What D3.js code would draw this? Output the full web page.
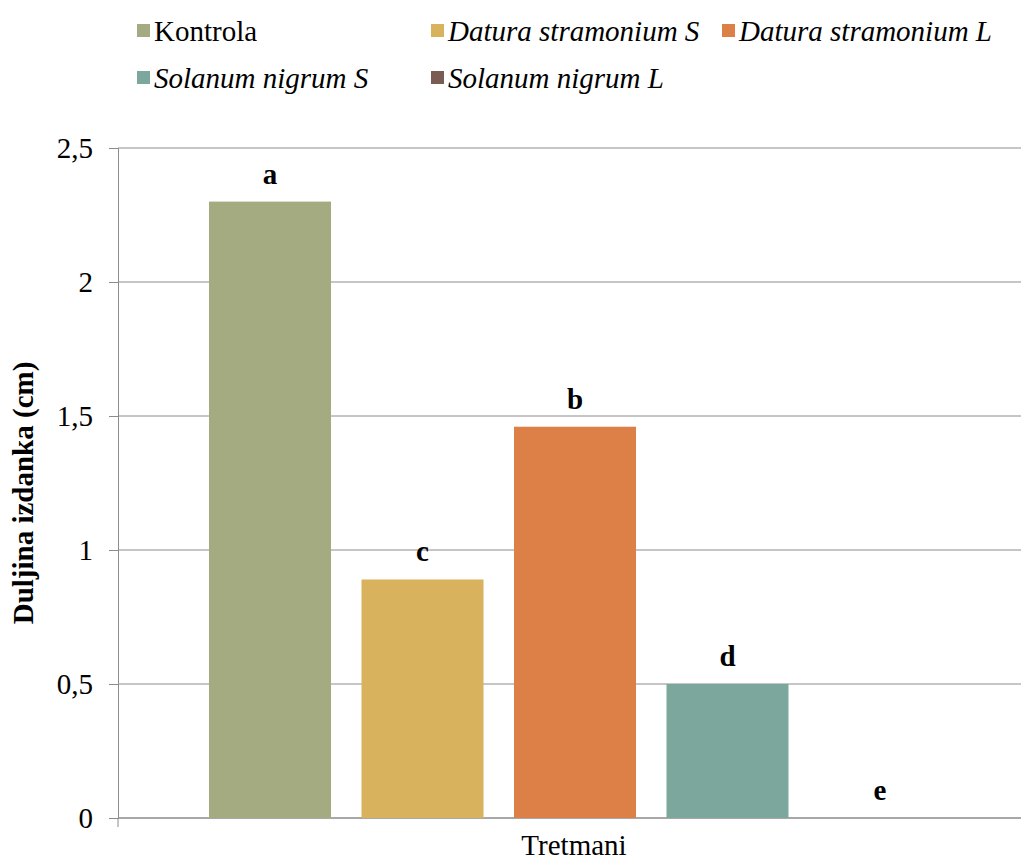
<!DOCTYPE html>
<html>
<head>
<meta charset="utf-8">
<script src="https://cdn.jsdelivr.net/npm/d3@7"></script>
<style>
  body { margin: 0; background: #fff; }
</style>
</head>
<body>
<div id="chart"></div>
<script>
// podaci
const series = ['Kontrola', 'Datura stramonium S', 'Datura stramonium L', 'Solanum nigrum S', 'Solanum nigrum L'];
const italicSeries = [false, true, true, true, true];
const values = [2.3, 0.89, 1.46, 0.5, 0];
const letters = ['a', 'c', 'b', 'd', 'e'];
const colors = ['#a5ab80', '#d8b25c', '#dd8047', '#7ba79d', '#7b5c52'];
const yTicks = [0, 0.5, 1, 1.5, 2, 2.5];

const width = 1021, height = 862;
const plotLeft = 118, plotRight = 1021, plotTop = 148, plotBottom = 818;
const serif = '"Liberation Serif", "Times New Roman", serif';
const fs = 29;

const svg = d3.select('#chart').append('svg')
    .attr('width', width)
    .attr('height', height)
    .style('font-family', serif);

const y = d3.scaleLinear().domain([0, 2.5]).range([plotBottom, plotTop]);
// stupci unutar jedne kategorije
const x = d3.scaleBand().domain(series)
    .range([193.75, 956.25])
    .paddingInner(0.2)
    .paddingOuter(0.1);

// mreza
svg.append('g').selectAll('line').data(yTicks).join('line')
    .attr('x1', plotLeft).attr('x2', plotRight)
    .attr('y1', d => y(d)).attr('y2', d => y(d))
    .attr('stroke', '#8c8c8c').attr('stroke-width', 1);

// y os
const yAxis = d3.axisLeft(y).tickValues(yTicks).tickSize(9).tickPadding(16)
    .tickFormat(d => String(d).replace('.', ','));
const gy = svg.append('g').attr('transform', `translate(${plotLeft},0)`).call(yAxis)
    .attr('font-family', null).attr('font-size', null);
gy.select('.domain').attr('stroke', '#8c8c8c');
gy.selectAll('.tick line').attr('stroke', '#8c8c8c');
gy.selectAll('.tick text').attr('fill', '#000')
    .style('font-family', serif).style('font-size', fs + 'px');

// x os
svg.append('line')
    .attr('x1', plotLeft).attr('x2', plotRight)
    .attr('y1', plotBottom).attr('y2', plotBottom)
    .attr('stroke', '#8c8c8c');
svg.append('line')
    .attr('x1', plotLeft).attr('x2', plotLeft)
    .attr('y1', plotBottom).attr('y2', plotBottom + 9)
    .attr('stroke', '#8c8c8c');

// stupci
svg.append('g').selectAll('rect').data(values).join('rect')
    .attr('x', (d, i) => x(series[i]))
    .attr('width', x.bandwidth())
    .attr('y', d => y(d))
    .attr('height', d => plotBottom - y(d))
    .attr('fill', (d, i) => colors[i]);

// oznake slova
svg.append('g').selectAll('text').data(values).join('text')
    .attr('x', (d, i) => x(series[i]) + x.bandwidth() / 2)
    .attr('y', d => y(d) - 18)
    .attr('text-anchor', 'middle')
    .style('font-size', fs + 'px')
    .style('font-weight', 'bold')
    .text((d, i) => letters[i]);

// naslovi osi
svg.append('text')
    .attr('x', 574).attr('y', 855)
    .attr('text-anchor', 'middle')
    .style('font-size', fs + 'px')
    .text('Tretmani');
svg.append('text')
    .attr('transform', 'translate(33,493) rotate(-90)')
    .attr('text-anchor', 'middle')
    .style('font-size', fs + 'px')
    .style('font-weight', 'bold')
    .text('Duljina izdanka (cm)');

// legenda
const legendPos = [[137, 31], [431, 31], [722, 31], [137, 78], [431, 78]];
const lg = svg.append('g').selectAll('g').data(series).join('g')
    .attr('transform', (d, i) => `translate(${legendPos[i][0]},${legendPos[i][1]})`);
lg.append('rect')
    .attr('x', 0).attr('y', -7).attr('width', 13).attr('height', 13)
    .attr('fill', (d, i) => colors[i]);
lg.append('text')
    .attr('x', 17).attr('y', 10)
    .style('font-size', fs + 'px')
    .style('font-style', (d, i) => italicSeries[i] ? 'italic' : 'normal')
    .text(d => d);
</script>
</body>
</html>
